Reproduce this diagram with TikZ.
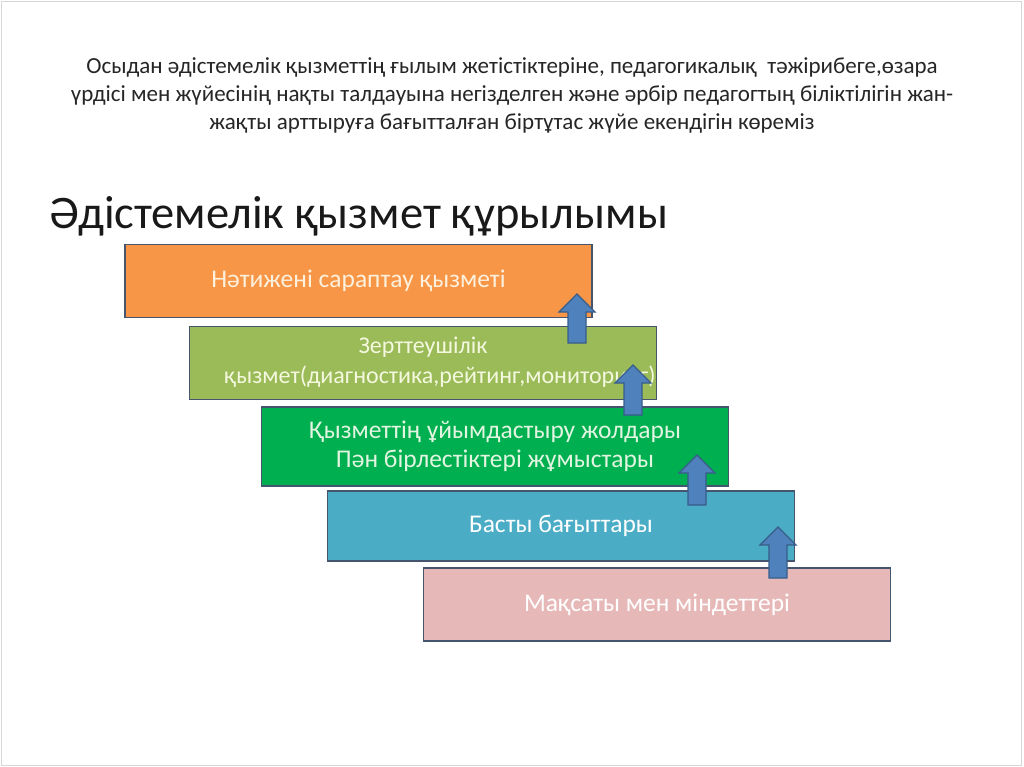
\documentclass[tikz,border=0pt]{standalone}
\usepackage{fontspec}
\setmainfont{Carlito}
\usepackage{xcolor}
\usetikzlibrary{calc}
\definecolor{slideframe}{RGB}{215,215,215}
\definecolor{boxline}{RGB}{70,85,110}
\definecolor{orangefill}{RGB}{247,150,70}
\definecolor{olivefill}{RGB}{155,187,89}
\definecolor{greenfill}{RGB}{0,176,80}
\definecolor{aquafill}{RGB}{75,172,198}
\definecolor{rosefill}{RGB}{230,185,184}
\definecolor{arrowfill}{RGB}{79,129,189}
\definecolor{arrowline}{RGB}{56,93,138}
\definecolor{creamtext}{RGB}{253,240,220}
\definecolor{palegreentext}{RGB}{244,248,222}
\definecolor{minttext}{RGB}{225,245,225}
\tikzset{
  levelbox/.style={draw=boxline,line width=1.8pt,minimum width=467pt,
    minimum height=73pt,align=center,font=\fontsize{25.5}{29}\selectfont,
    text=white,inner sep=0pt},
  blockarrow/.style={fill=arrowfill,draw=arrowline,line width=1.3pt,line join=miter},
  headtext/.style={align=center,font=\fontsize{23}{28}\selectfont,text=black!85}
}
\newcommand{\blockup}[2]{%
  \path[blockarrow] ($(#1)+(-9,0)$) -- ($(#2)+(-9,18)$) -- ($(#2)+(-18,18)$)
    -- (#2) -- ($(#2)+(18,18)$) -- ($(#2)+(9,18)$) -- ($(#1)+(9,0)$) -- cycle;}

\begin{document}
\begin{tikzpicture}[x=1pt,y=-1pt]
  \path[fill=white] (0,0) rectangle (1024,767);
  \draw[slideframe,line width=0.8pt] (1.5,1.5) rectangle (1021.5,765.5);

  \node[headtext] (intro) at (512,95) {Осыдан әдістемелік қызметтің ғылым жетістіктеріне, педагогикалық~ тәжірибеге,өзара\\
    үрдісі мен жүйесінің нақты талдауына негізделген және әрбір педагогтың біліктілігін жан-\\
    жақты арттыруға бағытталған біртұтас жүйе екендігін көреміз};
  \node[anchor=base west,font=\fontsize{46.5}{50}\selectfont,text=black!90,inner sep=0pt]
    (heading) at (49,229) {Әдістемелік қызмет құрылымы};

  % staircase of levels
  \node[levelbox,fill=orangefill,text=creamtext] (result) at (358.5,281) {Нәтижені сараптау қызметі};
  \node[levelbox,fill=olivefill,text=palegreentext,font=\fontsize{24}{30}\selectfont,
    text depth=6pt] (research) at (423,363)
    {Зерттеушілік\\\hspace*{34pt}қызмет(диагностика,рейтинг,мониторинг)};
  \node[levelbox,fill=greenfill,text=minttext,minimum height=79pt] (methods) at (495,446.5)
    {Қызметтің ұйымдастыру жолдары\\Пән бірлестіктері жұмыстары};
  \node[levelbox,fill=aquafill,minimum height=70pt] (directions) at (561,526) {Басты бағыттары};
  \node[levelbox,fill=rosefill] (aims) at (657,604.5) {Мақсаты мен міндеттері};

  % arrows between levels
  \coordinate (up1base) at (577,343); \coordinate (up1tip) at (577,294);
  \coordinate (up2base) at (633,415); \coordinate (up2tip) at (633,365);
  \coordinate (up3base) at (697,505); \coordinate (up3tip) at (697,455);
  \coordinate (up4base) at (778,578); \coordinate (up4tip) at (778,527);
  \blockup{up1base}{up1tip}
  \blockup{up2base}{up2tip}
  \blockup{up3base}{up3tip}
  \blockup{up4base}{up4tip}
\end{tikzpicture}
\end{document}
